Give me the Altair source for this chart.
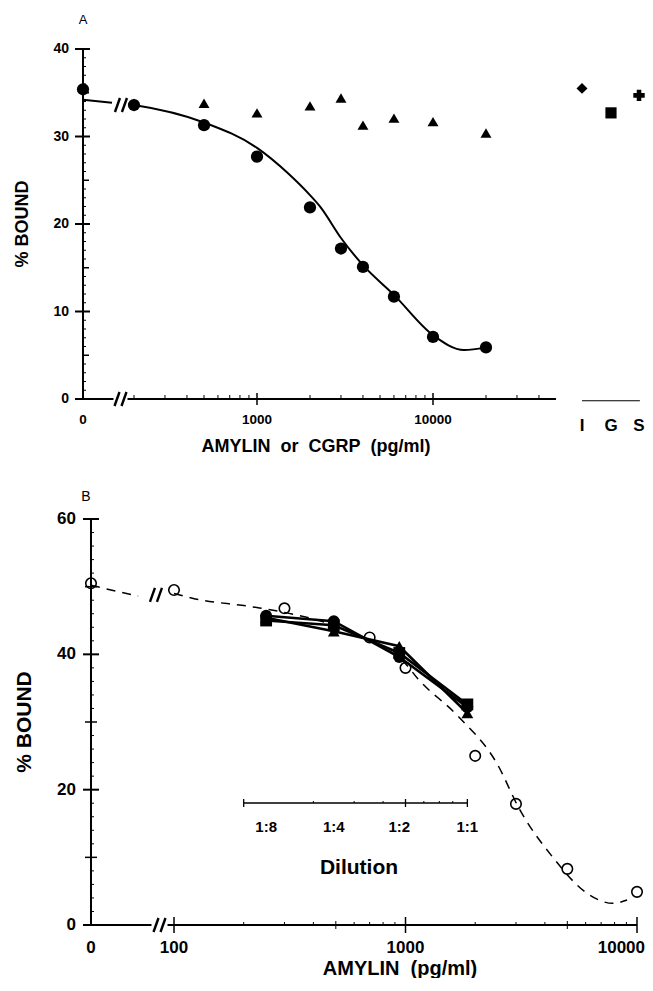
import math
import altair as alt
import pandas as pd

# ---------------- data ----------------
# Panel A
a_amylin_conc = [0, 200, 500, 1000, 2000, 3000, 4000, 6000, 10000, 20000]
a_amylin_bound = [35.4, 33.6, 31.3, 27.7, 21.9, 17.2, 15.1, 11.7, 7.1, 5.9]
a_cgrp_conc = [200, 500, 1000, 2000, 3000, 4000, 6000, 10000, 20000]
a_cgrp_bound = [33.8, 33.8, 32.7, 33.5, 34.4, 31.3, 32.1, 31.7, 30.4]
a_other_labels = ["I", "G", "S"]
a_other_bound = [35.5, 32.7, 34.7]
a_fit_lead_conc = [0, 150]
a_fit_lead_bound = [34.2, 33.85]
a_fit_conc = [185, 200, 500, 1000, 1500, 2000, 2300, 3000, 4000, 6000, 10000, 15000, 20000]
a_fit_bound = [33.7, 33.6, 31.6, 28.7, 25.8, 23.3, 21.9, 18.4, 15.3, 11.9, 7.3, 5.6, 5.9]
a_y_labels = [0, 10, 20, 30, 40]
a_x_labels = [0, 1000, 10000]

# Panel B
b_std_conc = [0, 100, 300, 700, 1000, 2000, 3000, 5000, 10000]
b_std_bound = [50.5, 49.5, 46.8, 42.5, 38.0, 25.0, 17.9, 8.3, 4.9]
b_fit_lead_conc = [0, 70]
b_fit_lead_bound = [50.2, 48.6]
b_fit_conc = [100, 120, 220, 300, 500, 700, 1000, 1130, 1670, 2480, 3120, 4330, 6080, 7870, 9060]
b_fit_bound = [49.0, 48.3, 47.0, 46.2, 44.2, 42.0, 38.6, 36.4, 31.0, 23.9, 17.0, 10.0, 4.7, 3.2, 3.7]
dilution_labels = ["1:8", "1:4", "1:2", "1:1"]
dilution_conc = [250, 490, 940, 1850]
sample_square_bound = [45.0, 44.3, 40.2, 32.6]
sample_circle_bound = [45.7, 44.9, 39.6, 32.2]
sample_triangle_bound = [45.4, 43.4, 41.2, 31.3]
b_y_labels = [0, 20, 40, 60]
b_x_labels = [0, 100, 1000]
b_x_last_label = 10000

# ---------------- layout ----------------
FONT = "Liberation Sans"
W, H = 637, 970
B_TOP = 462                          # local y where panel B begins

A_DEC, A_UNIT = 176.0, 8.75          # px per decade, px per % unit
A_X0 = 1.5852
A_XDOM = [A_X0, A_X0 + W / A_DEC]
A_YTOP = 44.686
A_YDOM = [A_YTOP - H / A_UNIT, A_YTOP]
A_ZERO = 2.0114                      # axis position of "0"
A_BREAK = 2.2244
A_CURVE_BREAK = (2.227, 33.6)
A_END = math.log10(50000)
A_CAT_POS = {"I": 4.8466, "G": 5.0113, "S": 5.1705}

B_DEC, B_UNIT = 231.5, 6.767
B_X0 = 1.2829
B_XDOM = [B_X0, B_X0 + W / B_DEC]
B_YTOP = 67.241 + B_TOP / B_UNIT
B_YDOM = [B_YTOP - H / B_UNIT, B_YTOP]
B_ZERO = 1.6414
B_BREAK = 1.9373
B_CURVE_BREAK = (1.922, 48.8)
B_END = 4.0


def pos(c, zero):
    return zero if c == 0 else math.log10(c)


XA = alt.Scale(domain=A_XDOM, nice=False, zero=False)
YA = alt.Scale(domain=A_YDOM, nice=False, zero=False)
XB = alt.Scale(domain=B_XDOM, nice=False, zero=False)
YB = alt.Scale(domain=B_YDOM, nice=False, zero=False)


def enc_xy(xs, ys):
    return dict(x=alt.X("x:Q", scale=xs, axis=None), y=alt.Y("y:Q", scale=ys, axis=None))


def rules(rows, xs, ys):
    df = pd.DataFrame(rows, columns=["x", "y", "x2", "y2", "w"])
    return alt.Chart(df).mark_rule(color="black").encode(
        **enc_xy(xs, ys), x2="x2:Q", y2="y2:Q",
        strokeWidth=alt.StrokeWidth("w:Q", scale=None))


def break_marks(cx, cy, dec, unit):
    out = []
    for k in (-3.5, 3.5):
        out.append([cx + (k - 2.5) / dec, cy - 7 / unit, cx + (k + 2.5) / dec, cy + 7 / unit, 2.4])
    return out


def texts(xv, yv, tv, xs, ys, **mk):
    df = pd.DataFrame({"x": xv, "y": yv, "t": tv})
    base = dict(font=FONT, color="black", fontWeight="bold", baseline="middle")
    base.update(mk)
    return alt.Chart(df).mark_text(**base).encode(**enc_xy(xs, ys), text="t:N")


def ptext(x, y, t, **mk):
    base = dict(font=FONT, color="black", fontWeight="bold", baseline="middle")
    base.update(mk)
    return alt.Chart(pd.DataFrame({"t": [t]})).mark_text(**base).encode(
        x=alt.value(x), y=alt.value(y), text="t:N")


def line(cv, yv, zero, xs, ys, **mk):
    df = pd.DataFrame({"x": [pos(c, zero) for c in cv], "y": yv})
    return alt.Chart(df).mark_line(color="black", **mk).encode(**enc_xy(xs, ys))


def points(cv, yv, zero, xs, ys, **mk):
    df = pd.DataFrame({"x": [pos(c, zero) for c in cv], "y": yv})
    return alt.Chart(df).mark_point(opacity=1, **mk).encode(**enc_xy(xs, ys))


# ---------------- panel A ----------------
segA = [[A_ZERO, 0, A_ZERO, 40, 2],
        [A_ZERO, 0, A_BREAK - 7 / A_DEC, 0, 2],
        [A_BREAK + 7 / A_DEC, 0, A_END, 0, 2]]
for v in range(0, 41):
    if v % 10 == 0:
        segA.append([A_ZERO - 8 / A_DEC, v, A_ZERO + 7 / A_DEC, v, 2])
    elif v % 5 == 0:
        segA.append([A_ZERO, v, A_ZERO + 6 / A_DEC, v, 1.5])
    else:
        segA.append([A_ZERO, v, A_ZERO + 3 / A_DEC, v, 1])
for c in [1000, 10000]:
    segA.append([math.log10(c), -6 / A_UNIT, math.log10(c), 6 / A_UNIT, 1.5])
for c in list(range(200, 1000, 100)) + list(range(2000, 10000, 1000)) + [20000, 30000, 40000]:
    segA.append([math.log10(c), 0, math.log10(c), 4 / A_UNIT, 1])
segA.append([A_CAT_POS["I"], -0.2, A_CAT_POS["S"] + 0.005, -0.2, 1])
segA += break_marks(A_BREAK, 0, A_DEC, A_UNIT)
segA += break_marks(A_CURVE_BREAK[0], A_CURVE_BREAK[1], A_DEC, A_UNIT)

other_df = pd.DataFrame({"x": [A_CAT_POS[k] for k in a_other_labels],
                         "y": a_other_bound, "cat": a_other_labels})
other_layer = alt.Chart(other_df).mark_point(filled=True, color="black", opacity=1).encode(
    **enc_xy(XA, YA),
    shape=alt.Shape("cat:N", scale=alt.Scale(domain=a_other_labels,
                                              range=["diamond", "square", "cross"]), legend=None),
    size=alt.Size("cat:N", scale=alt.Scale(domain=a_other_labels, range=[120, 130, 110]), legend=None))

panelA = alt.layer(
    rules(segA, XA, YA),
    line(a_fit_lead_conc, a_fit_lead_bound, A_ZERO, XA, YA, strokeWidth=2),
    line(a_fit_conc, a_fit_bound, A_ZERO, XA, YA, strokeWidth=2, interpolate="monotone"),
    points(a_cgrp_conc, a_cgrp_bound, A_ZERO, XA, YA, shape="triangle-up", filled=True,
           color="black", size=120),
    points(a_amylin_conc, a_amylin_bound, A_ZERO, XA, YA, shape="circle", filled=True,
           color="black", size=150),
    other_layer,
    texts([A_ZERO] * len(a_y_labels), a_y_labels, [str(v) for v in a_y_labels], XA, YA,
          fontSize=14, align="right", dx=-14),
    texts([pos(c, A_ZERO) for c in a_x_labels], [0] * 3, [str(c) for c in a_x_labels], XA, YA,
          fontSize=13.5, dy=21),
    texts([A_CAT_POS[k] for k in a_other_labels], [0] * 3, a_other_labels, XA, YA,
          fontSize=17, dy=27),
    ptext(75, 12, "A", fontSize=13, fontWeight="normal"),
    ptext(15, 216, "% BOUND", fontSize=18, angle=270),
    ptext(308, 439, "AMYLIN\u00a0 or\u00a0 CGRP\u00a0 (pg/ml)", fontSize=18),
)

# ---------------- panel B ----------------
segB = [[B_ZERO, 0, B_ZERO, 60, 2],
        [B_ZERO, 0, B_BREAK - 8 / B_DEC, 0, 2],
        [B_BREAK + 8 / B_DEC, 0, B_END, 0, 2]]
for v in range(0, 61, 2):
    if v % 20 == 0:
        segB.append([B_ZERO - 8 / B_DEC, v, B_ZERO + 8 / B_DEC, v, 2])
    elif v % 10 == 0:
        segB.append([B_ZERO - 6 / B_DEC, v, B_ZERO + 6 / B_DEC, v, 1.5])
    else:
        segB.append([B_ZERO, v, B_ZERO + 3 / B_DEC, v, 1])
for c in [100, 1000, 10000]:
    segB.append([math.log10(c), -8 / B_UNIT, math.log10(c), 8 / B_UNIT, 1.5])
for c in [500, 5000]:
    segB.append([math.log10(c), -4 / B_UNIT, math.log10(c), 4 / B_UNIT, 1])
for c in [200, 300, 400, 600, 700, 800, 900, 2000, 3000, 4000, 6000, 7000, 8000, 9000]:
    segB.append([math.log10(c), 0, math.log10(c), 3 / B_UNIT, 1])
segB += break_marks(B_BREAK, 0, B_DEC, B_UNIT)
segB += break_marks(B_CURVE_BREAK[0], B_CURVE_BREAK[1], B_DEC, B_UNIT)
# dilution scale
DIL_Y = 18.03
d0, d1 = math.log10(200), math.log10(dilution_conc[-1])
segB.append([d0, DIL_Y, d1, DIL_Y, 1.5])
for c in [200, 1000, dilution_conc[-1]]:
    segB.append([math.log10(c), DIL_Y - 4 / B_UNIT, math.log10(c), DIL_Y + 4 / B_UNIT, 1.3])
for c in [400, 600, 800, 1200, 1400, 1600]:
    segB.append([math.log10(c), DIL_Y, math.log10(c), DIL_Y + 2 / B_UNIT, 1])

sample_layers = []
for vals in [sample_square_bound, sample_circle_bound, sample_triangle_bound]:
    sample_layers.append(line(dilution_conc, vals, B_ZERO, XB, YB, strokeWidth=2.6))
for vals, shp in [(sample_square_bound, "square"), (sample_circle_bound, "circle"),
                  (sample_triangle_bound, "triangle-up")]:
    sample_layers.append(points(dilution_conc, vals, B_ZERO, XB, YB, shape=shp, filled=True,
                                color="black", size=140))

panelB = alt.layer(
    rules(segB, XB, YB),
    line(b_fit_lead_conc, b_fit_lead_bound, B_ZERO, XB, YB, strokeWidth=1.5, strokeDash=[9, 7]),
    line(b_fit_conc, b_fit_bound, B_ZERO, XB, YB, strokeWidth=1.5, strokeDash=[9, 7],
         interpolate="monotone"),
    *sample_layers,
    points(b_std_conc, b_std_bound, B_ZERO, XB, YB, shape="circle", filled=False,
           color="black", strokeWidth=1.6, size=110),
    texts([B_ZERO] * len(b_y_labels), b_y_labels, [str(v) for v in b_y_labels], XB, YB,
          fontSize=17, align="right", dx=-15),
    texts([pos(c, B_ZERO) for c in b_x_labels], [0] * len(b_x_labels),
          [str(c) for c in b_x_labels], XB, YB, fontSize=17, dy=23),
    # last label sits against the right edge, as in the (cropped) original
    texts([math.log10(b_x_last_label)], [0], [str(b_x_last_label)], XB, YB,
          fontSize=17, dy=23, align="right", dx=W - (B_END - B_X0) * B_DEC),
    texts([math.log10(c) for c in dilution_conc], [DIL_Y] * 4, dilution_labels, XB, YB,
          fontSize=15, dy=24),
    ptext(78, B_TOP + 27, "B", fontSize=14, fontWeight="normal"),
    ptext(17, B_TOP + 252, "% BOUND", fontSize=21, angle=270),
    ptext(351, B_TOP + 398, "Dilution", fontSize=21),
    ptext(392, 961, "AMYLIN\u00a0 (pg/ml)", fontSize=20),
)

chart = alt.layer(panelA, panelB).resolve_scale(
    x="independent", y="independent"
).properties(
    width=W, height=H, padding=0, background="white",
    autosize=alt.AutoSizeParams(type="none", contains="padding"),
).configure_view(strokeWidth=0)

chart.save("out.html", embed_options={"renderer": "svg", "actions": False})
